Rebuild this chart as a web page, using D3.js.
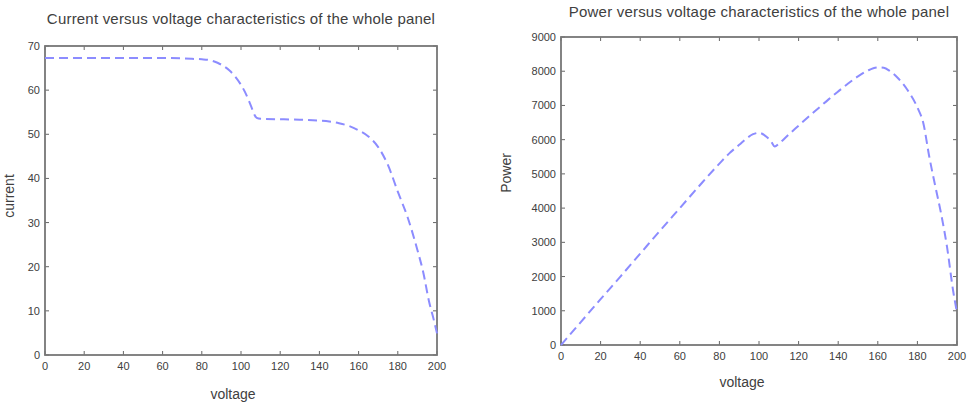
<!doctype html>
<html>
  <head>
    <meta charset="utf-8">
    <title>Whole panel characteristics</title>
    <style>
      body { margin: 0; background: #fff; }
      svg text { font-family: "Liberation Sans", Arial, sans-serif; fill: #404040; }
    </style>
    <script src="https://cdnjs.cloudflare.com/ajax/libs/d3/7.8.5/d3.min.js"></script>
  </head>
  <body>
    <div id="chart"></div>
    <script>
      // I-V curve
      const voltageI = [0, 10, 20, 30, 40, 50, 60, 70, 75, 80, 85, 88, 91, 94, 97, 100, 102, 104, 106, 107, 108, 110, 120, 130, 140, 145, 150, 155, 160, 165, 170, 175, 180, 185, 190, 193, 196, 198, 200];
      const current = [67.3, 67.3, 67.3, 67.3, 67.3, 67.3, 67.3, 67.2, 67.1, 67.0, 66.7, 66.2, 65.5, 64.5, 63.1, 61.2, 59.6, 57.6, 55.4, 54.3, 53.7, 53.5, 53.4, 53.3, 53.1, 52.9, 52.5, 51.9, 50.9, 49.5, 47.1, 43.0, 37.0, 31.2, 23.8, 18.7, 12.0, 8.6, 4.9];

      // P-V curve
      const voltageP = [0, 10, 20, 30, 40, 50, 60, 70, 80, 85, 90, 94, 97, 100, 103, 106, 108, 110, 115, 120, 125, 130, 135, 140, 145, 150, 155, 160, 163, 166, 170, 175, 180, 183, 186, 189, 192, 195, 198, 200];
      const power = [0, 670, 1340, 2000, 2670, 3340, 4000, 4660, 5300, 5600, 5850, 6050, 6160, 6200, 6120, 5960, 5800, 5880, 6150, 6410, 6670, 6920, 7170, 7410, 7640, 7850, 8020, 8110, 8100, 8010, 7810, 7450, 6940, 6480, 5500, 4650, 3830, 2850, 1600, 950];

      const xTicks = d3.range(0, 201, 20);
      const currentTicks = d3.range(0, 71, 10);
      const powerTicks = d3.range(0, 9001, 1000);

      const svg = d3.select('#chart').append('svg')
        .attr('width', 968)
        .attr('height', 407);

      function panel(opt) {
        const x = d3.scaleLinear().domain([0, 200]).range([opt.left, opt.right]);
        const y = d3.scaleLinear().domain(opt.yDomain).range([opt.bottom, opt.top]);
        const g = svg.append('g');

        // tick marks on all four sides, pointing in
        const tk = 4;
        g.selectAll('.xt').data(xTicks).enter().append('path')
          .attr('d', d => `M${x(d)},${opt.bottom}v${-tk}M${x(d)},${opt.top}v${tk}`)
          .attr('stroke', '#666').attr('stroke-width', 1);
        g.selectAll('.yt').data(opt.yTicks).enter().append('path')
          .attr('d', d => `M${opt.left},${y(d)}h${tk}M${opt.right},${y(d)}h${-tk}`)
          .attr('stroke', '#666').attr('stroke-width', 1);

        g.append('rect')
          .attr('x', opt.left).attr('y', opt.top)
          .attr('width', opt.right - opt.left).attr('height', opt.bottom - opt.top)
          .attr('fill', 'none').attr('stroke', '#777').attr('stroke-width', 1.8);

        g.selectAll('.xl').data(xTicks).enter().append('text')
          .attr('x', d => x(d)).attr('y', opt.bottom + 15)
          .attr('text-anchor', 'middle').attr('font-size', 11)
          .text(d => d);
        g.selectAll('.yl').data(opt.yTicks).enter().append('text')
          .attr('x', opt.left - 5).attr('y', d => y(d) + 4)
          .attr('text-anchor', 'end').attr('font-size', 11)
          .text(d => d);

        const line = d3.line()
          .x(d => x(d[0])).y(d => y(d[1]))
          .curve(d3.curveMonotoneX);
        g.append('path')
          .datum(d3.zip(opt.xs, opt.ys))
          .attr('d', line)
          .attr('fill', 'none')
          .attr('stroke', '#8c8cff')
          .attr('stroke-width', 2)
          .attr('stroke-dasharray', '9,5');

        g.append('text')
          .attr('x', (opt.left + opt.right) / 2).attr('y', opt.titleY)
          .attr('text-anchor', 'middle').attr('font-size', 15)
          .attr('letter-spacing', 0.2)
          .text(opt.title);
        g.append('text')
          .attr('x', opt.xLabelX).attr('y', opt.xLabelY)
          .attr('text-anchor', 'middle').attr('font-size', 14)
          .text('voltage');
        g.append('text')
          .attr('transform', `translate(${opt.yLabelX},${opt.yLabelY}) rotate(-90)`)
          .attr('text-anchor', 'middle').attr('font-size', 14)
          .text(opt.yLabel);
      }

      panel({
        left: 45, right: 437, top: 46, bottom: 355,
        yDomain: [0, 70], yTicks: currentTicks,
        xs: voltageI, ys: current,
        title: 'Current versus voltage characteristics of the whole panel', titleY: 24,
        xLabelX: 233, xLabelY: 399,
        yLabel: 'current', yLabelX: 14, yLabelY: 196
      });

      panel({
        left: 561, right: 957, top: 37, bottom: 345,
        yDomain: [0, 9000], yTicks: powerTicks,
        xs: voltageP, ys: power,
        title: 'Power versus voltage characteristics of the whole panel', titleY: 17,
        xLabelX: 742, xLabelY: 387,
        yLabel: 'Power', yLabelX: 511, yLabelY: 173
      });
    </script>
  </body>
</html>
